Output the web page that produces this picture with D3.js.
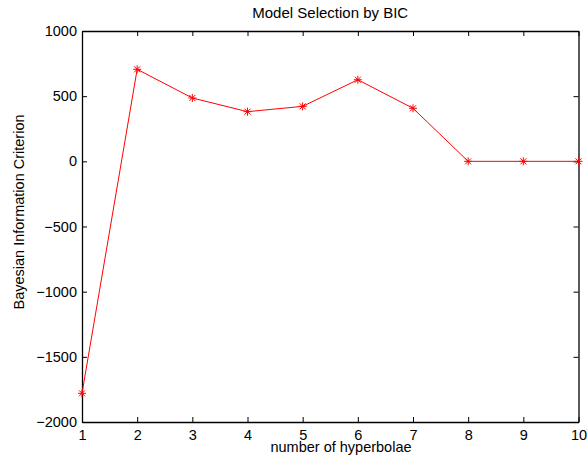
<!DOCTYPE html>
<html>
<head>
<meta charset="utf-8">
<script src="https://cdn.jsdelivr.net/npm/d3@7/dist/d3.min.js"></script>
<style>
  html, body { margin: 0; padding: 0; background: #fff; }
  svg { display: block; }
  text { font-family: "Liberation Sans", Arial, Helvetica, sans-serif; fill: #000; }
</style>
</head>
<body>
<svg id="chart" width="588" height="461"></svg>
<script>
// Number of hyperbolae fitted and the resulting BIC value
const numHyperbolae = [1, 2, 3, 4, 5, 6, 7, 8, 9, 10];
const bicValues = [-1780, 706, 486, 381, 422, 626, 407, 0, 0, 0];
const xTicks = [1, 2, 3, 4, 5, 6, 7, 8, 9, 10];
const yTicks = [-2000, -1500, -1000, -500, 0, 500, 1000];

(function () {
  const svg = d3.select("#chart");
  const plotLeft = 82, plotRight = 578.5, plotTop = 31, plotBottom = 422;
  const fontSize = "14.5px";

  const x = d3.scaleLinear().domain([1, 10]).range([plotLeft, plotRight]);
  const y = d3.scaleLinear().domain([-2000, 1000]).range([plotBottom, plotTop]);

  const tickLen = 5;

  // bottom axis with labels, ticks pointing inward
  const gx = svg.append("g").attr("transform", `translate(0,${plotBottom})`)
    .call(d3.axisBottom(x).tickValues(xTicks).tickFormat(d3.format("d"))
      .tickSizeInner(-tickLen).tickSizeOuter(0).tickPadding(10));
  // left axis with labels
  const gy = svg.append("g").attr("transform", `translate(${plotLeft},0)`)
    .call(d3.axisLeft(y).tickValues(yTicks).tickFormat(d => d < 0 ? "\u2212" + Math.abs(d) : d)
      .tickSizeInner(-tickLen).tickSizeOuter(0).tickPadding(10));
  // top and right axes, ticks only
  const gt = svg.append("g").attr("transform", `translate(0,${plotTop})`)
    .call(d3.axisTop(x).tickValues(xTicks).tickFormat("")
      .tickSizeInner(-tickLen).tickSizeOuter(0));
  const gr = svg.append("g").attr("transform", `translate(${plotRight},0)`)
    .call(d3.axisRight(y).tickValues(yTicks).tickFormat("")
      .tickSizeInner(-tickLen).tickSizeOuter(0));

  [gx, gy, gt, gr].forEach(g => {
    g.attr("font-family", null).attr("font-size", null);
    g.selectAll("path.domain").attr("stroke", "#000").attr("stroke-width", 1.3);
    g.selectAll(".tick line").attr("stroke", "#000").attr("stroke-width", 1);
    g.selectAll(".tick text").style("font-size", fontSize).attr("fill", "#000");
  });
  gx.selectAll(".tick text").attr("dy", "0.71em").attr("y", 8);
  gy.selectAll(".tick text").attr("x", -5);

  // BIC curve
  const line = d3.line().x((d, i) => x(numHyperbolae[i])).y(d => y(d));
  svg.append("path")
    .datum(bicValues)
    .attr("d", line)
    .attr("fill", "none")
    .attr("stroke", "#ff0000")
    .attr("stroke-width", 1);

  // asterisk markers
  const r = 4;
  const k = r * 0.75;
  const star = `M${-r},0L${r},0M0,${-r}L0,${r}` +
    `M${-k},${-k}L${k},${k}M${-k},${k}L${k},${-k}`;
  svg.append("g").selectAll("path")
    .data(bicValues)
    .join("path")
    .attr("transform", (d, i) => `translate(${x(numHyperbolae[i])},${y(d)})`)
    .attr("d", star)
    .attr("stroke", "#ff0000")
    .attr("stroke-width", 1)
    .attr("fill", "none");

  // title and axis labels
  svg.append("text")
    .attr("x", (plotLeft + plotRight) / 2).attr("y", 18)
    .attr("text-anchor", "middle").style("font-size", "15px")
    .text("Model Selection by BIC");
  svg.append("text")
    .attr("x", 341).attr("y", 452)
    .attr("text-anchor", "middle").style("font-size", fontSize)
    .text("number of hyperbolae");
  svg.append("text")
    .attr("transform", "translate(24,212) rotate(-90)")
    .attr("text-anchor", "middle").style("font-size", fontSize)
    .text("Bayesian Information Criterion");
})();
</script>
</body>
</html>
